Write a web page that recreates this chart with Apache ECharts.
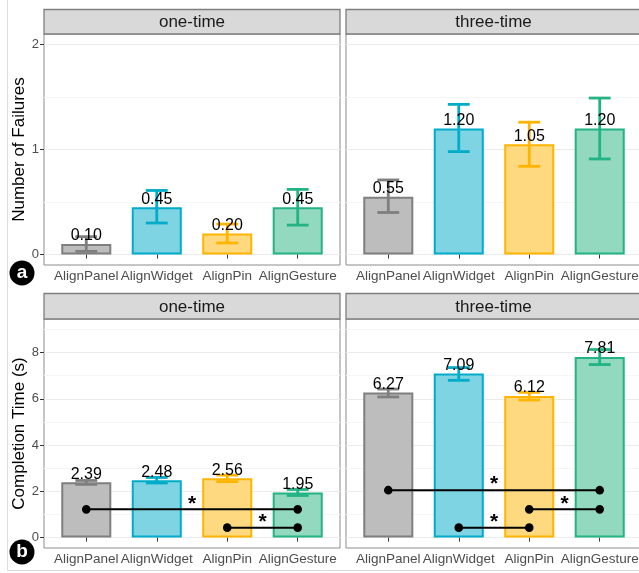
<!DOCTYPE html>
<html>
<head>
<meta charset="utf-8">
<script src="https://cdn.jsdelivr.net/npm/echarts@6.0.0/dist/echarts.min.js"></script>
<style>
  html, body { margin: 0; padding: 0; background: #fff; }
  #chart { width: 639px; height: 573px; }
</style>
</head>
<body>
<div id="chart"></div>
<script>
// categories / facets
const categories = ['AlignPanel', 'AlignWidget', 'AlignPin', 'AlignGesture'];
const facetNames = ['one-time', 'three-time'];
const lineColors = ['#7f7f7f', '#00acc8', '#ffb400', '#23b384'];
const fillColors = ['#bdbdbe', '#7fd4e4', '#ffd97f', '#92d9bf'];

// number of failures (mean, error bar low / high)
const failOneMean = [0.10, 0.45, 0.20, 0.45];
const failOneLow = [0.03, 0.30, 0.11, 0.28];
const failOneHigh = [0.17, 0.61, 0.29, 0.62];
const failThreeMean = [0.55, 1.20, 1.05, 1.20];
const failThreeLow = [0.40, 0.98, 0.84, 0.91];
const failThreeHigh = [0.71, 1.43, 1.26, 1.49];

// completion time (s)
const timeOneMean = [2.39, 2.48, 2.56, 1.95];
const timeOneLow = [2.30, 2.36, 2.42, 1.82];
const timeOneHigh = [2.47, 2.60, 2.70, 2.08];
const timeThreeMean = [6.27, 7.09, 6.12, 7.81];
const timeThreeLow = [6.08, 6.80, 5.95, 7.48];
const timeThreeHigh = [6.42, 7.35, 6.28, 8.13];

// significance brackets: [from category, to category, height]
const timeOneSig = [[0, 3, 1.22], [2, 3, 0.43]];
const timeThreeSig = [[0, 3, 2.05], [2, 3, 1.22], [1, 2, 0.43]];

// tick labels
const failTicks = [0, 1, 2];
const failMinor = [0.5, 1.5];
const timeTicks = [0, 2, 4, 6, 8];
const timeMinor = [1, 3, 5, 7, 9];

const FONT = '"Liberation Sans", Arial, sans-serif';
const colX = [[44, 340], [346, 642]];
const rows = [
  { strip: [9.5, 34], plot: [34, 265], min: -0.1, max: 2.1, ticks: failTicks, minor: failMinor,
    title: 'Number of Failures', tag: 'a', tagY: 273 },
  { strip: [293.5, 319], plot: [319, 548], min: -0.45, max: 9.45, ticks: timeTicks, minor: timeMinor,
    title: 'Completion Time (s)', tag: 'b', tagY: 552 }
];
const panels = [
  { row: 0, col: 0, mean: failOneMean, low: failOneLow, high: failOneHigh, sig: [] },
  { row: 0, col: 1, mean: failThreeMean, low: failThreeLow, high: failThreeHigh, sig: [] },
  { row: 1, col: 0, mean: timeOneMean, low: timeOneLow, high: timeOneHigh, sig: timeOneSig },
  { row: 1, col: 1, mean: timeThreeMean, low: timeThreeLow, high: timeThreeHigh, sig: timeThreeSig }
];

const grid = [], xAxis = [], yAxis = [], series = [], graphic = [];

panels.forEach((p) => {
  const r = rows[p.row];
  const [x0, x1] = colX[p.col];
  const [y0, y1] = r.plot;
  const band = (x1 - x0) / 4.2;
  const isLeft = p.col === 0;

  // outer panel (border, gridlines, y axis)
  const gb = grid.length;
  grid.push({
    left: x0, top: y0, width: x1 - x0, height: y1 - y0,
    show: true, borderColor: '#8c8c8c', borderWidth: 1, backgroundColor: 'transparent',
    outerBoundsMode: 'none'
  });
  xAxis.push({ gridIndex: gb, type: 'value', min: 0, max: 1, show: false });
  yAxis.push({
    gridIndex: gb, type: 'value', min: r.min, max: r.max,
    axisLine: { show: false },
    axisTick: { show: isLeft, customValues: r.ticks, length: 4, lineStyle: { color: '#333' } },
    axisLabel: { show: isLeft, customValues: r.ticks, color: '#4d4d4d', fontSize: 13, margin: 5, fontFamily: FONT },
    splitLine: { show: true, lineStyle: { color: '#ebebeb', width: 1 } },
    name: isLeft ? r.title : '', nameLocation: 'middle', nameGap: 15,
    nameTextStyle: { color: '#000', fontSize: 17, fontFamily: FONT }
  });
  yAxis.push({
    gridIndex: gb, type: 'value', min: r.min, max: r.max,
    axisLine: { show: false },
    axisTick: { show: false, customValues: r.minor },
    axisLabel: { show: false, customValues: r.minor },
    splitLine: { show: true, lineStyle: { color: '#f5f5f5', width: 1 } }
  });

  // inner data grid (category bands)
  const gd = grid.length;
  grid.push({
    left: x0 + 0.1 * band, top: y0, width: 4 * band, height: y1 - y0,
    outerBoundsMode: 'none'
  });
  const xi = xAxis.length;
  xAxis.push({
    gridIndex: gd, type: 'category', data: categories, boundaryGap: true,
    axisLine: { show: false },
    axisTick: { show: true, alignWithLabel: true, length: 4, lineStyle: { color: '#333' } },
    axisLabel: { interval: 0, hideOverlap: false, color: '#4d4d4d', fontSize: 13.5, margin: 4, fontFamily: FONT },
    splitLine: { show: false }
  });
  const yi = yAxis.length;
  yAxis.push({ gridIndex: gd, type: 'value', min: r.min, max: r.max, show: false });

  series.push({
    type: 'bar', xAxisIndex: xi, yAxisIndex: yi, barWidth: '71%', z: 2,
    data: p.mean.map((v, i) => ({
      value: v,
      itemStyle: { color: fillColors[i], borderColor: lineColors[i], borderWidth: 2 }
    })),
    emphasis: { disabled: true }
  });

  series.push({
    type: 'custom', xAxisIndex: xi, yAxisIndex: yi, z: 3,
    data: p.mean.map((m, i) => [i, p.low[i], p.high[i], m]),
    renderItem: (params, api) => {
      const i = api.value(0);
      const top = api.coord([i, api.value(2)]);
      const bot = api.coord([i, api.value(1)]);
      const mid = api.coord([i, api.value(3)]);
      const half = api.size([1, 0])[0] * 0.155;
      const style = { stroke: lineColors[i], lineWidth: 2.8 };
      return {
        type: 'group',
        children: [
          { type: 'line', shape: { x1: top[0], y1: top[1], x2: bot[0], y2: bot[1] }, style },
          { type: 'line', shape: { x1: top[0] - half, y1: top[1], x2: top[0] + half, y2: top[1] }, style },
          { type: 'line', shape: { x1: bot[0] - half, y1: bot[1], x2: bot[0] + half, y2: bot[1] }, style },
          {
            type: 'text', x: mid[0], y: mid[1],
            style: {
              text: api.value(3).toFixed(2), fill: '#000', fontSize: 16, fontFamily: FONT,
              align: 'center', verticalAlign: 'bottom'
            }
          }
        ]
      };
    }
  });

  if (p.sig.length) {
    series.push({
      type: 'custom', xAxisIndex: xi, yAxisIndex: yi, z: 4,
      data: p.sig,
      renderItem: (params, api) => {
        const a = api.coord([api.value(0), api.value(2)]);
        const b = api.coord([api.value(1), api.value(2)]);
        return {
          type: 'group',
          children: [
            { type: 'line', shape: { x1: a[0], y1: a[1], x2: b[0], y2: b[1] }, style: { stroke: '#000', lineWidth: 2 } },
            { type: 'circle', shape: { cx: a[0], cy: a[1], r: 4.3 }, style: { fill: '#000' } },
            { type: 'circle', shape: { cx: b[0], cy: b[1], r: 4.3 }, style: { fill: '#000' } },
            {
              type: 'text', x: (a[0] + b[0]) / 2, y: a[1] + 5,
              style: { text: '*', fill: '#000', fontSize: 21, fontWeight: 'bold', fontFamily: FONT, align: 'center', verticalAlign: 'bottom' }
            }
          ]
        };
      }
    });
  }

  // facet strip
  graphic.push({
    type: 'rect', shape: { x: x0, y: r.strip[0], width: x1 - x0, height: r.strip[1] - r.strip[0] },
    style: { fill: '#d9d9d9', stroke: '#7f7f7f', lineWidth: 1.3 }, z: 10
  });
  graphic.push({
    type: 'text', x: (x0 + Math.min(x1, 639)) / 2 + (p.col ? 1 : 0), y: (r.strip[0] + r.strip[1]) / 2 + 1,
    style: { text: facetNames[p.col], fill: '#1a1a1a', fontSize: 17, fontFamily: FONT, align: 'center', verticalAlign: 'middle' },
    z: 11
  });
});

// panel tags and figure frame
rows.forEach((r) => {
  graphic.push({ type: 'circle', shape: { cx: 22, cy: r.tagY, r: 12.5 }, style: { fill: '#000' }, z: 10 });
  graphic.push({
    type: 'text', x: 22, y: r.tagY,
    style: { text: r.tag, fill: '#fff', fontSize: 19, fontWeight: 'bold', fontFamily: FONT, align: 'center', verticalAlign: 'middle' },
    z: 11
  });
});
graphic.push({ type: 'line', shape: { x1: 7.5, y1: 0, x2: 7.5, y2: 570.5 }, style: { stroke: '#dcdcdc', lineWidth: 1 }, z: 1 });
graphic.push({ type: 'line', shape: { x1: 7.5, y1: 570.5, x2: 639, y2: 570.5 }, style: { stroke: '#dcdcdc', lineWidth: 1 }, z: 1 });

const chart = echarts.init(document.getElementById('chart'), null, { renderer: 'canvas' });
chart.setOption({
  animation: false,
  backgroundColor: '#fff',
  textStyle: { fontFamily: FONT },
  grid, xAxis, yAxis, series, graphic
});
</script>
</body>
</html>
